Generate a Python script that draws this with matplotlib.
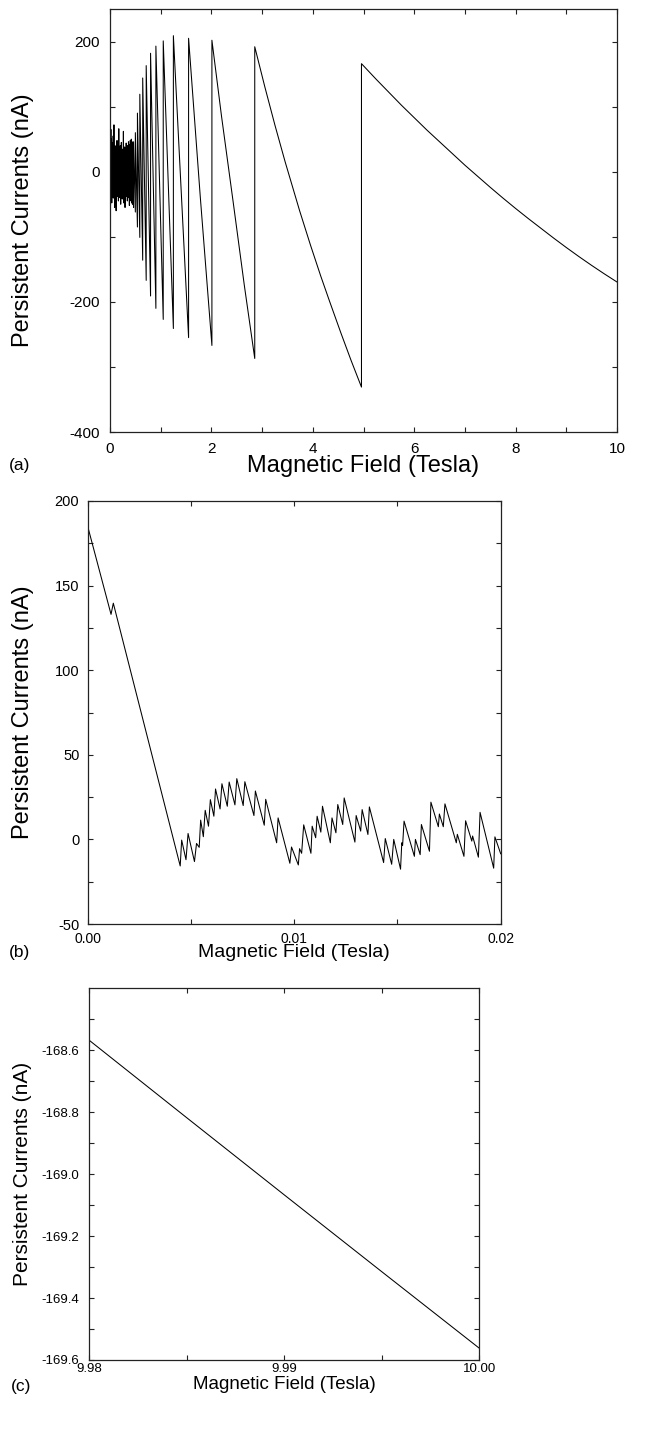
import matplotlib
matplotlib.use("Agg")
import numpy as np
import matplotlib.pyplot as plt
from matplotlib.ticker import MultipleLocator, FormatStrFormatter

plt.rcParams['font.family'] = ['Liberation Sans', 'DejaVu Sans']
plt.rcParams['axes.unicode_minus'] = False

# ---------------- data: panel (a) ----------------
# dense low-field fluctuations, 0 ... 0.45 T (nA)
a_dense_I = [
    10, 78, -35, 40, -52, 30, -20, 65, -45, 25, -30, 50, -15, 35, -48, 20, -25, 45, -38, 28,
    -22, 38, -30, 15, -40, 55, -18, 30, -35, 22, -28, 72, -25, 33, -42, 18, -55, 26, -20, 40,
    -33, 24, -18, 35, -45, 20, -25, 30, -60, 28, -22, 42, -30, 16, -27, 48, -20, 25, -38, 30,
    -24, 18, -32, 36, -20, 28, -45, 22, -30, 66, -26, 30, -18, 24, -40, 34, -22, 20, -35, 27,
    -28, 40, -20, 25, -50, 30, -24, 18, -33, 45, -26, 22, -30, 35, -18, 28, -42, 24, -25, 32,
    -22, 26, -36, 20, -28, 62, -20, 30, -48, 25, -24, 34, -30, 20, -26, 38, -22, 28, -55, 24,
    -30, 35, -20, 26, -34, 22, -27, 44, -24, 30, -38, 24, -20, 36, -30, 28, -45, 30, -25, 40,
    -28, 32, -35, 25, -22, 46, -30, 26, -40, 35, -26, 30, -52, 28, -24, 42, -34, 30, -28, 48,
    -36, 34, -30, 44, -45, 30, -26, 50, -40, 38, -48, 36, -30, 46, -42, 40, -50, 44, -38, 35,
]
a_dense_Bmax = 0.45
# transition teeth (T, nA)
a_mid_B = [0.455, 0.465, 0.465, 0.500, 0.500, 0.541, 0.541]
a_mid_I = [-42, -55, 46, -62, 60, -85, 90]
# main sawtooth jumps: field, value just before jump, value just after jump
a_jump_B = [0.588, 0.645, 0.714, 0.800, 0.905, 1.050, 1.250, 1.550, 2.010, 2.855, 4.960]
a_trough = [-101, -136, -167, -191, -210, -227, -241, -255, -267, -287, -331]
a_peak = [119, 144, 163, 182, 193, 201, 209, 205, 202, 192, 166]
# intermediate points of the curved descents (segment ending at jump index)
a_seg8_B, a_seg8_I = [1.78], [-38]
a_seg9_B, a_seg9_I = [2.20, 2.43, 2.65], [85, -47, -175]
a_seg10_B = [3.055, 3.255, 3.455, 3.74, 3.955, 4.155, 4.33, 4.555, 4.755]
a_seg10_I = [130, 71, 15, -60, -113, -160, -199, -248, -290]
# tail after last jump
a_tail_B = [5.25, 5.5, 5.75, 6.0, 6.25, 6.5, 6.75, 7.0, 7.25, 7.5, 7.75, 8.0, 8.25, 8.5,
            8.75, 9.0, 9.25, 9.5, 9.75, 10.0]
a_tail_I = [142, 122, 102, 83, 64, 46, 28, 10, -7, -24, -40.5, -56.5, -72, -87,
            -102, -116.5, -130.5, -144, -157, -169.5]

# ---------------- data: panel (b) ----------------
b_B_mT = [0, 1.13, 1.24, 4.48, 4.55, 4.76, 4.86, 5.17, 5.27, 5.40, 5.47, 5.60, 5.69, 5.85, 5.94,
          6.11, 6.19, 6.41, 6.50, 6.76, 6.85, 7.13, 7.22, 7.53, 7.61, 8.05, 8.12, 8.55, 8.62,
          9.15, 9.22, 9.79, 9.87, 10.20, 10.26, 10.36, 10.46, 10.81, 10.87, 11.04, 11.11, 11.29,
          11.37, 11.75, 11.83, 12.02, 12.11, 12.35, 12.42, 12.94, 13.00, 13.22, 13.29, 13.57,
          13.64, 14.33, 14.41, 14.72, 14.82, 15.15, 15.21, 15.25, 15.32, 15.82, 15.87, 16.10,
          16.16, 16.55, 16.62, 16.98, 17.03, 17.22, 17.30, 17.85, 17.90, 18.22, 18.30, 18.60,
          18.64, 18.92, 19.00, 19.66, 19.72, 20.0]
b_I = [185, 133, 139.6, -15.7, -0.4, -12.0, 3.5, -13.1, -2.4, -4.7, 11.4, 1.6, 17.2, 7.8, 23.5,
       13.7, 29.8, 18.0, 32.9, 19.6, 33.9, 20.4, 35.9, 20.0, 34.1, 14.1, 28.6, 8.4, 23.7,
       -2.0, 12.7, -14.1, -4.5, -15.1, -5.5, -8.2, 8.6, -8.2, 7.8, 1.0, 13.7, 4.3,
       19.6, -2.0, 12.7, 3.9, 20.6, 8.8, 24.5, -1.6, 14.1, 4.9, 17.6, 2.9,
       19.2, -13.7, 0.5, -14.7, 0.0, -17.6, -2.0, -3.5, 10.8, -10.0, 0.0, -9.0,
       8.8, -7.0, 22.0, 7.5, 15.0, 7.5, 21.0, -2.0, 3.0, -10.0, 11.0, -1.0,
       2.0, -10.5, 16.0, -17.0, 1.5, -8.5]

# ---------------- data: panel (c) ----------------
c_B = [9.980, 9.985, 9.990, 9.995, 10.000]
c_I = [-168.568, -168.818, -169.067, -169.315, -169.562]

XLABEL = "Magnetic Field (Tesla)"
YLABEL = "Persistent Currents (nA)"

# ---------------- assemble panel (a) polyline ----------------
aB = list(np.linspace(0, a_dense_Bmax, len(a_dense_I)))
aI = list(a_dense_I)
aB += a_mid_B
aI += a_mid_I
seg_extra = {8: (a_seg8_B, a_seg8_I), 9: (a_seg9_B, a_seg9_I), 10: (a_seg10_B, a_seg10_I)}
for k, (bj, tr, pk) in enumerate(zip(a_jump_B, a_trough, a_peak)):
    if k in seg_extra:
        aB += seg_extra[k][0]
        aI += seg_extra[k][1]
    aB += [bj, bj]
    aI += [tr, pk]
aB += a_tail_B
aI += a_tail_I

# ---------------- figure ----------------
W, H = 647, 1448
fig = plt.figure(figsize=(W / 100, H / 100), dpi=100)


def add_ax(l, r, t, b):
    return fig.add_axes([l / W, 1 - b / H, (r - l) / W, (b - t) / H])


axA = add_ax(110, 617, 9, 432)
axB = add_ax(87.7, 500.7, 501, 924)
axC = add_ax(89.3, 479.3, 988.3, 1360)


def style(ax, xpad, ypad, xsize, ysize):
    for s in ax.spines.values():
        s.set_linewidth(0.9)
        s.set_color('#222222')
    ax.tick_params(which='both', direction='in', top=True, right=True,
                   length=3.3, width=0.8, color='#222222')
    ax.tick_params(axis='x', which='both', pad=xpad, labelsize=xsize)
    ax.tick_params(axis='y', which='both', pad=ypad, labelsize=ysize)


lw = 0.75
axA.plot(aB, aI, color='black', lw=lw)
axA.set_xlim(0, 10)
axA.set_ylim(-400, 250)
axA.xaxis.set_major_locator(MultipleLocator(2))
axA.xaxis.set_minor_locator(MultipleLocator(1))
axA.yaxis.set_major_locator(MultipleLocator(200))
axA.yaxis.set_minor_locator(MultipleLocator(100))
style(axA, 7, 7.5, 11, 11)

axB.plot(np.array(b_B_mT) * 1e-3, b_I, color='black', lw=lw)
axB.set_xlim(0, 0.02)
axB.set_ylim(-50, 200)
axB.xaxis.set_major_locator(MultipleLocator(0.01))
axB.xaxis.set_minor_locator(MultipleLocator(0.005))
axB.xaxis.set_major_formatter(FormatStrFormatter('%.2f'))
axB.yaxis.set_major_locator(MultipleLocator(50))
axB.yaxis.set_minor_locator(MultipleLocator(25))
style(axB, 5.5, 6, 10, 10.5)

axC.plot(c_B, c_I, color='black', lw=lw)
axC.set_xlim(9.98, 10.0)
axC.set_ylim(-169.6, -168.4)
axC.xaxis.set_major_locator(MultipleLocator(0.01))
axC.xaxis.set_minor_locator(MultipleLocator(0.005))
axC.xaxis.set_major_formatter(FormatStrFormatter('%.2f'))
axC.set_yticks([-169.6, -169.4, -169.2, -169.0, -168.8, -168.6])
axC.set_yticks([-169.5, -169.3, -169.1, -168.9, -168.7, -168.5], minor=True)
axC.yaxis.set_major_formatter(FormatStrFormatter('%.1f'))
style(axC, 2.5, 7, 9.5, 9.5)

# axis labels
specs = [
    (axA, 17, 17, -0.1716, -0.0804),
    (axB, 14, 17, -0.1567, -0.0662),
    (axC, 13.5, 15, -0.170, -0.0646),
]
for ax, xs, ys, ylx, xly in specs:
    ax.set_xlabel(XLABEL, fontsize=xs)
    ax.set_ylabel(YLABEL, fontsize=ys)
    ax.xaxis.set_label_coords(0.5, xly)
    ax.yaxis.set_label_coords(ylx, 0.5)
    ax.xaxis.label.set_va('center')
    ax.yaxis.label.set_va('center')

for lab, (px, py) in zip(['(a)', '(b)', '(c)'], [(20, 466), (20, 952), (21, 1386)]):
    fig.text(px / W, 1 - py / H, lab, ha='center', va='center', fontsize=12.5)

fig.savefig('out.png', dpi=100)
